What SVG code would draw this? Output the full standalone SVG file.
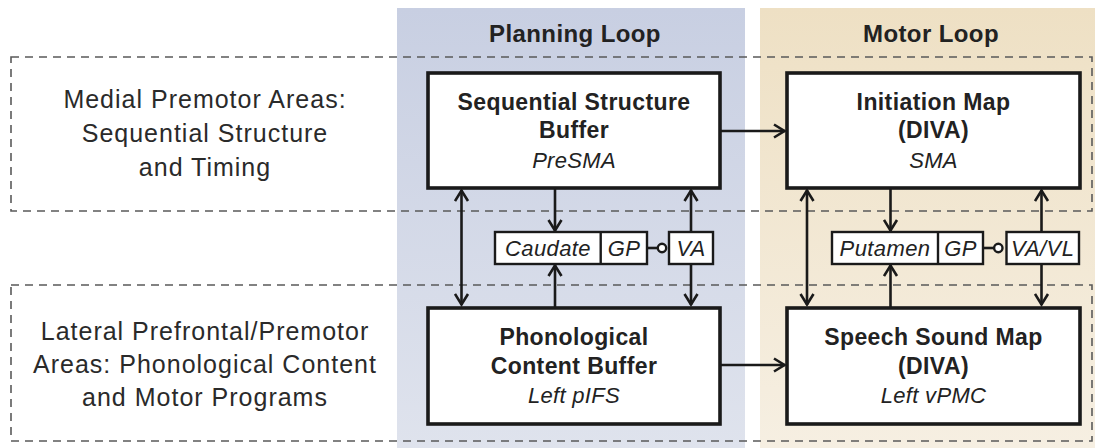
<svg xmlns="http://www.w3.org/2000/svg" width="1095" height="448" viewBox="0 0 1095 448">
<defs>
<linearGradient id="gBlue" x1="0" y1="0" x2="0" y2="1">
<stop offset="0" stop-color="#c8cfe2"/>
<stop offset="1" stop-color="#dfe3ed"/>
</linearGradient>
<linearGradient id="gBeige" x1="0" y1="0" x2="0" y2="1">
<stop offset="0" stop-color="#eee0c4"/>
<stop offset="1" stop-color="#f6efe2"/>
</linearGradient>
<marker id="arr" markerUnits="userSpaceOnUse" viewBox="0 0 14 16" refX="12.5" refY="8" markerWidth="14" markerHeight="16" orient="auto-start-reverse">
<path d="M1.5,1.5 L12,8 L1.5,14.5" fill="none" stroke="#1a1a1a" stroke-width="2.6" stroke-linejoin="miter"/>
</marker>
<style>
.band{fill:none;stroke:#5a5a5a;stroke-width:1.6;stroke-dasharray:8 6}
.box{fill:#fff;stroke:#1a1a1a;stroke-width:3.6}
.sbox{fill:#fff;stroke:#1a1a1a;stroke-width:2.4}
.conn{fill:none;stroke:#1a1a1a;stroke-width:2.6}
.title{font-family:"Liberation Sans",Arial,sans-serif;font-weight:bold;font-size:24px;fill:#222;text-anchor:middle;letter-spacing:0.4px}
.side{font-family:"Liberation Sans",Arial,sans-serif;font-size:25px;fill:#2a2a2a;text-anchor:middle;letter-spacing:1px}
.bt{font-family:"Liberation Sans",Arial,sans-serif;font-weight:bold;font-size:23px;fill:#222;text-anchor:middle;letter-spacing:0.4px}
.it{font-family:"Liberation Sans",Arial,sans-serif;font-style:italic;font-size:22px;fill:#222;text-anchor:middle;letter-spacing:0.3px}
.si{font-family:"Liberation Sans",Arial,sans-serif;font-style:italic;font-size:22px;fill:#222;text-anchor:middle;letter-spacing:0.4px}
</style>
</defs>

<g id="backgrounds">
<rect x="397" y="8" width="348" height="440" fill="url(#gBlue)"/>
<rect x="760" y="8" width="335" height="440" fill="url(#gBeige)"/>
<text class="title" x="575" y="42">Planning Loop</text>
<text class="title" x="931" y="42">Motor Loop</text>
</g>

<g id="bands">
<rect class="band" x="11" y="57" width="1081" height="154"/>
<rect class="band" x="11" y="285" width="1081" height="156"/>
<text class="side" x="205" y="108">Medial Premotor Areas:</text>
<text class="side" x="205" y="142">Sequential Structure</text>
<text class="side" x="205" y="176">and Timing</text>
<text class="side" x="205" y="340">Lateral Prefrontal/Premotor</text>
<text class="side" x="205" y="373">Areas: Phonological Content</text>
<text class="side" x="205" y="406">and Motor Programs</text>
</g>

<g id="connectors">
<line class="conn" x1="720" y1="131" x2="785" y2="131" marker-end="url(#arr)"/>
<line class="conn" x1="720" y1="365" x2="785" y2="365" marker-end="url(#arr)"/>
<line class="conn" x1="461.5" y1="190" x2="461.5" y2="305" marker-start="url(#arr)" marker-end="url(#arr)"/>
<line class="conn" x1="555" y1="188" x2="555" y2="231" marker-end="url(#arr)"/>
<line class="conn" x1="555" y1="307" x2="555" y2="265" marker-end="url(#arr)"/>
<line class="conn" x1="691" y1="232" x2="691" y2="190" marker-end="url(#arr)"/>
<line class="conn" x1="691" y1="264" x2="691" y2="305" marker-end="url(#arr)"/>
<line class="conn" x1="807" y1="190" x2="807" y2="305" marker-start="url(#arr)" marker-end="url(#arr)"/>
<line class="conn" x1="890.5" y1="188" x2="890.5" y2="231" marker-end="url(#arr)"/>
<line class="conn" x1="890.5" y1="307" x2="890.5" y2="265" marker-end="url(#arr)"/>
<line class="conn" x1="1041.5" y1="232" x2="1041.5" y2="190" marker-end="url(#arr)"/>
<line class="conn" x1="1041.5" y1="264" x2="1041.5" y2="305" marker-end="url(#arr)"/>
<line class="conn" x1="647" y1="248" x2="658" y2="248"/>
<circle cx="662" cy="248" r="4.2" fill="#fff" stroke="#1a1a1a" stroke-width="2.4"/>
<line class="conn" x1="983" y1="248" x2="994" y2="248"/>
<circle cx="998.3" cy="248" r="4.2" fill="#fff" stroke="#1a1a1a" stroke-width="2.4"/>
</g>

<g id="seq-buffer">
<rect class="box" x="428" y="73" width="292" height="115"/>
<text class="bt" x="574" y="110">Sequential Structure</text>
<text class="bt" x="574" y="138">Buffer</text>
<text class="it" x="574" y="168">PreSMA</text>
</g>

<g id="initiation-map">
<rect class="box" x="787" y="73" width="293" height="115"/>
<text class="bt" x="933.5" y="110">Initiation Map</text>
<text class="bt" x="933.5" y="138">(DIVA)</text>
<text class="it" x="933.5" y="168">SMA</text>
</g>

<g id="phon-buffer">
<rect class="box" x="428" y="308" width="292" height="116"/>
<text class="bt" x="574" y="345">Phonological</text>
<text class="bt" x="574" y="374">Content Buffer</text>
<text class="it" x="574" y="403">Left pIFS</text>
</g>

<g id="speech-sound-map">
<rect class="box" x="787" y="308" width="293" height="116"/>
<text class="bt" x="933.5" y="345">Speech Sound Map</text>
<text class="bt" x="933.5" y="374">(DIVA)</text>
<text class="it" x="933.5" y="403">Left vPMC</text>
</g>

<g id="caudate-gp">
<rect class="sbox" x="495" y="232" width="152" height="32"/>
<line x1="600.7" y1="232" x2="600.7" y2="264" stroke="#1a1a1a" stroke-width="2.4"/>
<text class="si" x="548" y="256">Caudate</text>
<text class="si" x="624" y="256">GP</text>
</g>

<g id="va">
<rect class="sbox" x="669" y="232" width="44" height="32"/>
<text class="si" x="691" y="256">VA</text>
</g>

<g id="putamen-gp">
<rect class="sbox" x="832" y="232" width="151" height="32"/>
<line x1="938" y1="232" x2="938" y2="264" stroke="#1a1a1a" stroke-width="2.4"/>
<text class="si" x="885" y="256">Putamen</text>
<text class="si" x="960.5" y="256">GP</text>
</g>

<g id="va-vl">
<rect class="sbox" x="1006.5" y="232" width="72.5" height="32"/>
<text class="si" x="1042.7" y="256">VA/VL</text>
</g>
</svg>
